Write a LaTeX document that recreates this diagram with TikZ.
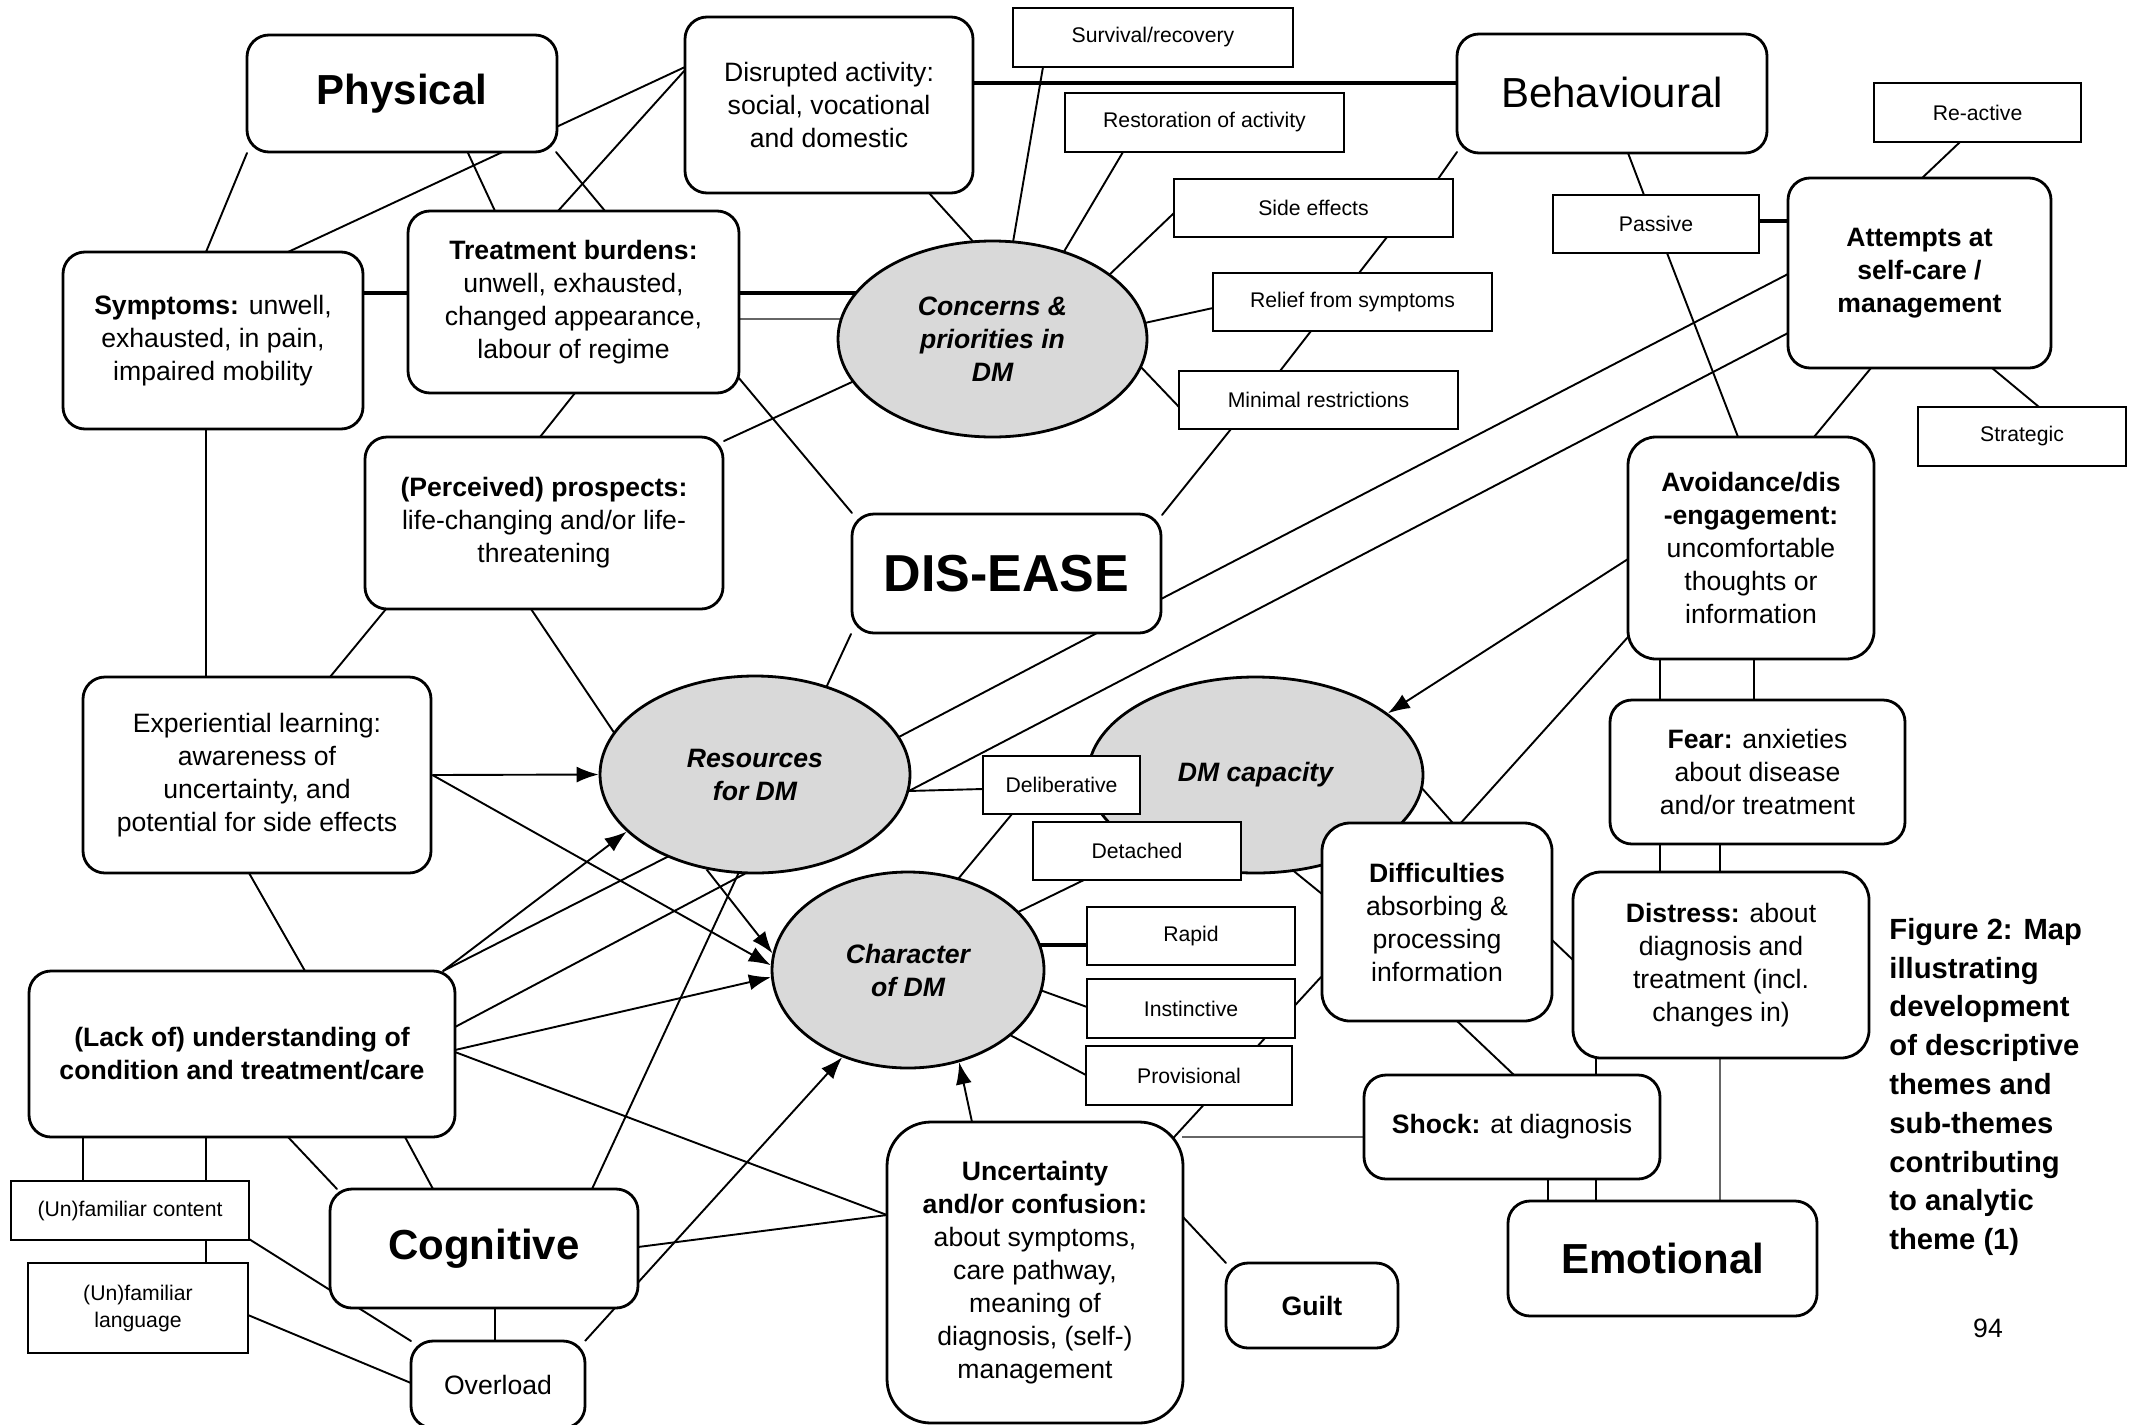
\documentclass[tikz,border=0pt]{standalone}
\usepackage{fontspec}
\setmainfont{Liberation Sans}
\usetikzlibrary{shapes.geometric,arrows.meta,backgrounds}
\definecolor{hubgray}{RGB}{217,217,217}
\begin{document}
\begin{tikzpicture}[x=0.5pt,y=-0.5pt,
  base/.style={draw, line width=1.4pt, fill=white, align=center, inner sep=0pt,
    font=\fontsize{13.3}{16.5}\selectfont},
  rbox/.style={base, rounded corners=11pt},
  tag/.style={base, font=\fontsize{10.6}{13.5}\selectfont},
  hub/.style={base, ellipse, fill=hubgray, font=\fontsize{13.3}{16.5}\selectfont\bfseries\itshape},
  theme/.style={rbox, font=\fontsize{21}{25}\selectfont\bfseries},
  link/.style={line width=0.95pt, line cap=round},
  strong/.style={line width=1.9pt},
  faint/.style={line width=0.95pt, black!60},
  flow/.style={line width=0.95pt, -{Latex[length=11pt,width=8pt]}}]

\useasboundingbox (0,0) rectangle (2134,1424);

% ---------- physical theme ----------
\node[theme, minimum width=155pt, minimum height=58.5pt] (phys) at (402,93.5) {Physical};
\node[rbox, minimum width=144pt, minimum height=88pt] (disr) at (829,105) {Disrupted activity:\\social, vocational\\and domestic};
\node[rbox, minimum width=150pt, minimum height=88.5pt] (symp) at (213,340.5) {\textbf{Symptoms:} unwell,\\exhausted, in pain,\\impaired mobility};
\node[rbox, minimum width=165.5pt, minimum height=91pt] (treat) at (573.5,302) {\textbf{Treatment burdens:}\\unwell, exhausted,\\changed appearance,\\labour of regime};
\node[rbox, minimum width=179pt, minimum height=86pt] (persp) at (544,523) {\textbf{(Perceived) prospects:}\\life-changing and/or life-\\threatening};
\node[rbox, minimum width=174pt, minimum height=98pt] (exp) at (257,775) {Experiential learning:\\awareness of\\uncertainty, and\\potential for side effects};

% ---------- central hubs ----------
\node[hub, minimum width=154.5pt, minimum height=98pt] (conc) at (992.5,339) {Concerns \&\\priorities in\\DM};
\node[rbox, font=\fontsize{26}{30}\selectfont\bfseries, minimum width=154.5pt, minimum height=59.5pt] (dis) at (1006.5,573.5) {DIS-EASE};
\node[hub, minimum width=155pt, minimum height=98.5pt] (res) at (755,774.5) {Resources\\for DM};
\node[hub, minimum width=167.5pt, minimum height=98pt] (dmc) at (1255.5,775) {DM capacity};
\node[hub, minimum width=136pt, minimum height=98pt] (char) at (908,970) {Character\\of DM};

% ---------- priorities ----------
\node[tag, minimum width=140pt, minimum height=29.5pt] (surv) at (1153,37.5) {Survival/recovery};
\node[tag, minimum width=139.5pt, minimum height=29.5pt] (resto) at (1204.5,122.5) {Restoration of activity};
\node[tag, minimum width=139.5pt, minimum height=29pt] (side) at (1313.5,208) {Side effects};
\node[tag, minimum width=139.5pt, minimum height=29pt] (relief) at (1352.5,302) {Relief from symptoms};
\node[tag, minimum width=139.5pt, minimum height=29pt] (minimal) at (1318.5,400) {Minimal restrictions};

% ---------- behavioural theme ----------
\node[rbox, font=\fontsize{21}{25}\selectfont, minimum width=155pt, minimum height=59.5pt] (behav) at (1612,93.5) {\raisebox{1.5pt}{Behavioural}};
\node[tag, minimum width=103.5pt, minimum height=29.5pt] (react) at (1977.5,112.5) {Re-active};
\node[tag, minimum width=103pt, minimum height=29pt] (passive) at (1656,224) {Passive};
\node[rbox, font=\fontsize{13.3}{16.5}\selectfont\bfseries, minimum width=131.5pt, minimum height=95pt] (att) at (1919.5,273) {Attempts at\\self-care /\\management};
\node[tag, minimum width=104pt, minimum height=29.5pt] (strat) at (2022,436.5) {Strategic};
\node[rbox, rounded corners=14pt, minimum width=123pt, minimum height=111pt] (avoid) at (1751,548) {\textbf{Avoidance/dis}\\\textbf{-engagement:}\\uncomfortable\\thoughts or\\information};

% ---------- character of decision making ----------
\node[tag, minimum width=78.5pt, minimum height=29pt] (delib) at (1061.5,785) {Deliberative};
\node[tag, minimum width=104pt, minimum height=29pt] (detach) at (1137,851) {Detached};
\node[tag, minimum width=104pt, minimum height=29pt] (rapid) at (1191,936) {Rapid};
\node[tag, minimum width=104pt, minimum height=29.5pt] (inst) at (1191,1008.5) {Instinctive};
\node[tag, minimum width=103pt, minimum height=29.5pt] (prov) at (1189,1075.5) {Provisional};

% ---------- emotional theme ----------
\node[rbox, rounded corners=14pt, minimum width=115pt, minimum height=99pt] (diff) at (1437,922) {\textbf{Difficulties}\\absorbing \&\\processing\\information};
\node[rbox, minimum width=147.5pt, minimum height=72pt] (fear) at (1757.5,772) {\textbf{Fear:} anxieties\\about disease\\and/or treatment};
\node[rbox, rounded corners=14pt, minimum width=148pt, minimum height=93pt] (distr) at (1721,965) {\textbf{Distress:} about\\diagnosis and\\treatment (incl.\\changes in)};
\node[rbox, minimum width=148pt, minimum height=52pt] (shock) at (1512,1127) {\textbf{Shock:} at diagnosis};
\node[theme, minimum width=154.5pt, minimum height=57.5pt] (emo) at (1662.5,1258.5) {Emotional};
\node[rbox, font=\fontsize{13.3}{16.5}\selectfont\bfseries, minimum width=86pt, minimum height=42.5pt] (guilt) at (1312,1305.5) {Guilt};
\node[rbox, rounded corners=22pt, minimum width=148pt, minimum height=150.5pt] (unc) at (1035,1272.5) {\textbf{Uncertainty}\\\textbf{and/or confusion:}\\about symptoms,\\care pathway,\\meaning of\\diagnosis, (self-)\\management};

% ---------- cognitive theme ----------
\node[rbox, font=\fontsize{13.3}{16.5}\selectfont\bfseries, minimum width=213pt, minimum height=83pt] (lack) at (242,1054) {(Lack of) understanding of\\condition and treatment/care};
\node[tag, minimum width=119pt, minimum height=29.5pt] (ucont) at (130,1210.5) {(Un)familiar content};
\node[tag, minimum width=110pt, minimum height=45pt] (ulang) at (138,1308) {(Un)familiar\\language};
\node[theme, minimum width=154pt, minimum height=59.5pt] (cog) at (484,1248.5) {Cognitive};
\node[rbox, minimum width=87pt, minimum height=43.5pt] (over) at (498,1384.5) {Overload};

% ---------- caption ----------
\node[font=\fontsize{14.6}{19.4}\selectfont\bfseries, align=left, anchor=west, inner sep=0pt] (cap) at (1889,1087) {Figure 2: Map\\illustrating\\development\\of descriptive\\themes and\\sub-themes\\contributing\\to analytic\\theme (1)};
\node[font=\fontsize{13.3}{16}\selectfont, inner sep=0pt] (pg) at (1988,1328) {94};

\begin{scope}[on background layer]
\fill[white] (0,0) rectangle (2134,1424);

% physical links
\draw[link] ([shift={(-155,59.5)}]phys.center) -- ([shift={(-7,-88.5)}]symp.center);
\draw[link] ([shift={(-144,-38)}]disr.center) -- ([shift={(75,-88.5)}]symp.center);
\draw[link] ([shift={(66,59.5)}]phys.center) -- ([shift={(-78.5,-91)}]treat.center);
\draw[link] ([shift={(154,58.5)}]phys.center) -- ([shift={(31.5,-91)}]treat.center);
\draw[link] ([shift={(-144,-35)}]disr.center) -- ([shift={(-15.5,-91)}]treat.center);
\draw[strong] ([shift={(150,-47.5)}]symp.center) -- ([shift={(-165.5,-9)}]treat.center);
\draw[strong] ([shift={(165.5,-9)}]treat.center) -- ([shift={(-132.5,-46)}]conc.center);
\draw[faint] ([shift={(165.5,17)}]treat.center) -- ([shift={(-147.5,-20)}]conc.center);
\draw[link] ([shift={(100,88)}]disr.center) -- ([shift={(-14.5,-92)}]conc.center);
\draw[strong] ([shift={(144,-22)}]disr.center) -- ([shift={(-155,-10.5)}]behav.center);
\draw[link] ([shift={(164.5,75)}]treat.center) -- ([shift={(-154.5,-60.5)}]dis.center);
\draw[link] ([shift={(-140.5,43)}]conc.center) -- ([shift={(180,-82)}]persp.center);
\draw[link] ([shift={(1.5,91)}]treat.center) -- ([shift={(-4,-86)}]persp.center);
\draw[link] ([shift={(-13,86)}]persp.center) -- ([shift={(-138,-37.5)}]res.center);
\draw[link] ([shift={(-158,86)}]persp.center) -- ([shift={(73,-98)}]exp.center);
\draw[link] ([shift={(-7,88.5)}]symp.center) -- ([shift={(-51,-98)}]exp.center);
\draw[link] ([shift={(-8,98)}]exp.center) -- ([shift={(63,-83)}]lack.center);

% priorities
\draw[link] ([shift={(-110,29.5)}]surv.center) -- ([shift={(19.5,-91)}]conc.center);
\draw[link] ([shift={(-81.5,29.5)}]resto.center) -- ([shift={(66.5,-79)}]conc.center);
\draw[link] ([shift={(-139.5,5)}]side.center) -- ([shift={(115.5,-63)}]conc.center);
\draw[link] ([shift={(-155,58.5)}]behav.center) -- ([shift={(124.5,-29)}]side.center);
\draw[link] ([shift={(73.5,29)}]side.center) -- ([shift={(6.5,-29)}]relief.center);
\draw[link] ([shift={(-139.5,6)}]relief.center) -- ([shift={(147.5,-15)}]conc.center);
\draw[link] ([shift={(-41.5,29)}]relief.center) -- ([shift={(-38.5,-29)}]minimal.center);
\draw[link] ([shift={(145.5,25)}]conc.center) -- ([shift={(-139.5,7)}]minimal.center);
\draw[link] ([shift={(-87.5,29)}]minimal.center) -- ([shift={(155.5,-58.5)}]dis.center);

% behavioural links
\draw[link] ([shift={(16,59.5)}]behav.center) -- ([shift={(-12,-29)}]passive.center);
\draw[strong] ([shift={(103,-3)}]passive.center) -- ([shift={(-131.5,-52)}]att.center);
\draw[link] ([shift={(-17.5,29.5)}]react.center) -- ([shift={(1.5,-94)}]att.center);
\draw[link] ([shift={(72.5,95)}]att.center) -- ([shift={(17,-29.5)}]strat.center);
\draw[link] ([shift={(11,29)}]passive.center) -- ([shift={(-13,-111)}]avoid.center);
\draw[link] ([shift={(-48.5,95)}]att.center) -- ([shift={(63,-111)}]avoid.center);
\draw[link] ([shift={(-131.5,1)}]att.center) -- ([shift={(154.5,25.5)}]dis.center);
\draw[link] ([shift={(-131.5,60)}]att.center) -- ([shift={(150,18.5)}]res.center);
\draw[link] ([shift={(90.5,59.5)}]dis.center) -- ([shift={(140,-35.5)}]res.center);
\draw[link] ([shift={(-155.5,60.5)}]dis.center) -- ([shift={(70,-84.5)}]res.center);

% resources and character of decision making
\draw[flow] (exp.east) -- (res.west);
\draw[flow] (exp.east) -- (char.178);
\draw[flow] (res.243) -- (char.173);
\draw[flow] ([shift={(201,-83)}]lack.center) -- (res.204);
\draw[link] ([shift={(201,-83)}]lack.center) -- ([shift={(-80,78.5)}]res.center);
\draw[link] ([shift={(213,-27)}]lack.center) -- ([shift={(-5,96.5)}]res.center);
\draw[flow] ([shift={(213,-4)}]lack.center) -- (char.183);
\draw[link] ([shift={(213,-2)}]lack.center) -- ([shift={(-148,-57.5)}]unc.center);
\draw[link] ([shift={(108,-59.5)}]cog.center) -- ([shift={(-15,95.5)}]res.center);
\draw[flow] ([shift={(87,-43.5)}]over.center) -- (char.233);
\draw[link] ([shift={(154,-1.5)}]cog.center) -- ([shift={(-148,-57.5)}]unc.center);
\draw[flow] ([shift={(-63,-150.5)}]unc.center) -- (char.299);
\draw[strong] ([shift={(132,-25)}]char.center) -- ([shift={(-104,9)}]rapid.center);
\draw[link] ([shift={(132,20)}]char.center) -- ([shift={(-104,-1.5)}]inst.center);
\draw[link] ([shift={(102,65)}]char.center) -- ([shift={(-103,-0.5)}]prov.center);
\draw[link] ([shift={(102,-54)}]char.center) -- ([shift={(-49,27)}]detach.center);
\draw[link] ([shift={(50,-91)}]char.center) -- ([shift={(-49.5,29)}]delib.center);
\draw[link] ([shift={(153,16.5)}]res.center) -- ([shift={(-78.5,4)}]delib.center);

% capacity and emotional links
\draw[flow] ([shift={(-123,11)}]avoid.center) -- (dmc.25);
\draw[link] ([shift={(-123,89)}]avoid.center) -- ([shift={(22,-97)}]diff.center);
\draw[link] ([shift={(164.5,11)}]dmc.center) -- ([shift={(22,-92)}]diff.center);
\draw[link] ([shift={(34.5,93)}]dmc.center) -- ([shift={(-115,-28)}]diff.center);
\draw[link] ([shift={(130,-125.5)}]unc.center) -- ([shift={(-116,55)}]diff.center);
\draw[faint] ([shift={(-148,10)}]shock.center) -- ([shift={(147,-135.5)}]unc.center);
\draw[link] ([shift={(20,99)}]diff.center) -- ([shift={(2,-52)}]shock.center);
\draw[link] ([shift={(115,18)}]diff.center) -- ([shift={(-148,-5)}]distr.center);
\draw[link] ([shift={(36,52)}]shock.center) -- ([shift={(-114.5,-57.5)}]emo.center);
\draw[link] ([shift={(84,52)}]shock.center) -- ([shift={(-66.5,-57.5)}]emo.center);
\draw[link] ([shift={(-125,93)}]distr.center) -- ([shift={(84,-52)}]shock.center);
\draw[faint] ([shift={(-1,93)}]distr.center) -- ([shift={(57.5,-57.5)}]emo.center);
\draw[link] ([shift={(-97.5,72)}]fear.center) -- ([shift={(-61,-93)}]distr.center);
\draw[link] ([shift={(-37.5,72)}]fear.center) -- ([shift={(-1,-93)}]distr.center);
\draw[link] ([shift={(-91,111)}]avoid.center) -- ([shift={(-97.5,-72)}]fear.center);
\draw[link] ([shift={(3,111)}]avoid.center) -- ([shift={(-3.5,-72)}]fear.center);
\draw[link] ([shift={(148,-55.5)}]unc.center) -- ([shift={(-86,-42.5)}]guilt.center);

% cognitive links
\draw[link] ([shift={(-159,83)}]lack.center) -- ([shift={(-47,-29.5)}]ucont.center);
\draw[link] ([shift={(-36,83)}]lack.center) -- ([shift={(76,-29.5)}]ucont.center);
\draw[link] ([shift={(46,83)}]lack.center) -- ([shift={(-147,-59.5)}]cog.center);
\draw[link] ([shift={(163,83)}]lack.center) -- ([shift={(-51,-59.5)}]cog.center);
\draw[link] ([shift={(76,29.5)}]ucont.center) -- ([shift={(68,-45)}]ulang.center);
\draw[link] ([shift={(119,28.5)}]ucont.center) -- ([shift={(-87,-43.5)}]over.center);
\draw[link] ([shift={(110,7)}]ulang.center) -- ([shift={(-87,-1.5)}]over.center);
\draw[link] ([shift={(11,59.5)}]cog.center) -- ([shift={(-3,-43.5)}]over.center);
\end{scope}
\end{tikzpicture}
\end{document}
